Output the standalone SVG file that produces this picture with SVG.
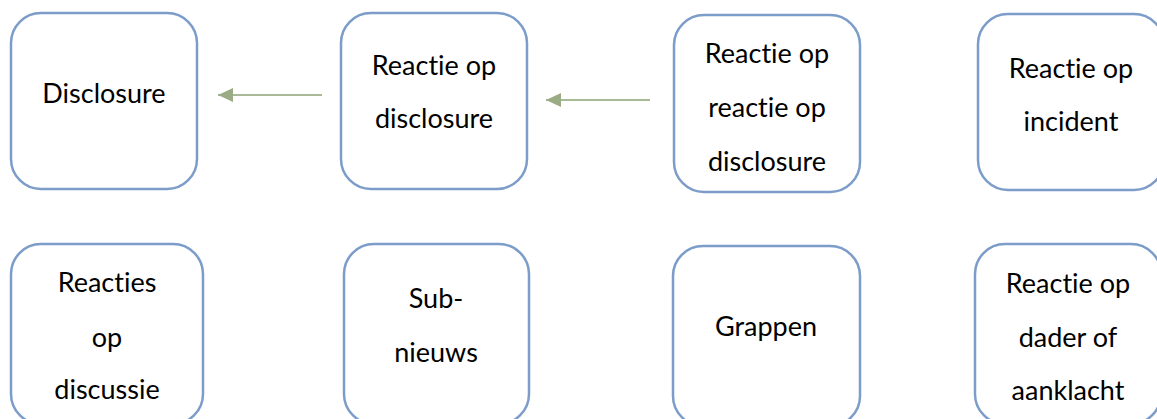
<svg xmlns="http://www.w3.org/2000/svg" width="1157" height="419" viewBox="0 0 1157 419">
<style>
.box{fill:#ffffff;stroke:#7c9cc9;stroke-width:2.5}
.t{font-family:Lato,"Liberation Sans",sans-serif;font-size:27px;fill:#000;text-anchor:middle;font-variant-ligatures:none;font-feature-settings:"liga" 0,"dlig" 0}
.conn{stroke:#a9ba98;stroke-width:2;fill:none}
</style>
<defs>
<marker id="ah" markerUnits="userSpaceOnUse" markerWidth="16" markerHeight="16" refX="15" refY="7" orient="auto" viewBox="0 0 16 14">
<path d="M0,0 L15,7 L0,14 Z" fill="#9aab86"/>
</marker>
</defs>
<rect width="1157" height="419" fill="#ffffff"/>
<g id="connectors">
<line class="conn" x1="322" y1="95" x2="218" y2="95" marker-end="url(#ah)"/>
<line class="conn" x1="650" y1="100" x2="546" y2="100" marker-end="url(#ah)"/>
</g>
<g id="n1"><rect class="box" x="11" y="13" width="186" height="176" rx="30"/><text class="t" x="104" y="103">Disclosure</text></g>
<g id="n2"><rect class="box" x="341" y="13" width="186" height="176" rx="30"/><text class="t" x="434" y="75">Reactie op</text><text class="t" x="434" y="128">disclosure</text></g>
<g id="n3"><rect class="box" x="674" y="15" width="186" height="177" rx="30"/><text class="t" x="767" y="63">Reactie op</text><text class="t" x="767" y="117">reactie op</text><text class="t" x="767" y="171">disclosure</text></g>
<g id="n4"><rect class="box" x="978" y="14" width="186" height="176" rx="30"/><text class="t" x="1071" y="78">Reactie op</text><text class="t" x="1071" y="131">incident</text></g>
<g id="n5"><rect class="box" x="11" y="244" width="192" height="180" rx="30"/><text class="t" x="107" y="292">Reacties</text><text class="t" x="107" y="347">op</text><text class="t" x="107" y="399">discussie</text></g>
<g id="n6"><rect class="box" x="344" y="244" width="185" height="180" rx="30"/><text class="t" x="436" y="308">Sub-</text><text class="t" x="436" y="362">nieuws</text></g>
<g id="n7"><rect class="box" x="673" y="246" width="187" height="180" rx="30"/><text class="t" x="766" y="336">Grappen</text></g>
<g id="n8"><rect class="box" x="975" y="244" width="186" height="180" rx="30"/><text class="t" x="1068" y="293">Reactie op</text><text class="t" x="1068" y="347">dader of</text><text class="t" x="1068" y="400">aanklacht</text></g>
</svg>
